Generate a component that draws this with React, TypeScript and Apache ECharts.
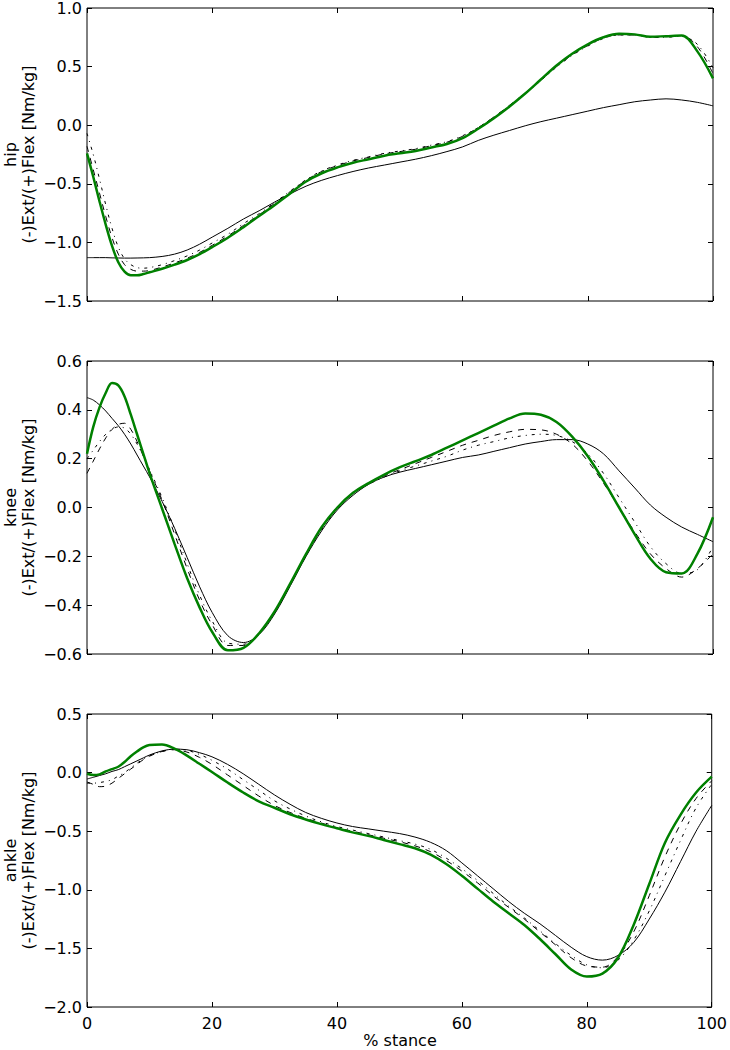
import React, { useEffect, useRef } from "react";
import * as echarts from "echarts";

const X = [0,1,2,3,4,5,6,7,8,9,10,12,14,16,18,20,22.5,25,27.5,30,32.5,35,37.5,40,42.5,45,47.5,50,52.5,55,57.5,60,62.5,65,67.5,70,72.5,75,77.5,80,82.5,85,87.5,90,92.5,95,97.5,100];

const HIP_G = [-0.24,-0.44,-0.65,-0.85,-1.03,-1.17,-1.25,-1.28,-1.28,-1.27,-1.255,
  -1.225,-1.19,-1.15,-1.10,-1.04,
  -0.96,-0.87,-0.775,-0.68,-0.58,-0.48,-0.41,-0.36,-0.32,-0.29,-0.26,-0.24,-0.22,-0.19,-0.16,-0.11,-0.03,0.06,0.16,0.27,0.39,0.51,0.61,0.69,0.75,0.78,0.775,0.755,0.76,0.765,0.63,0.40];
const HIP_S = [-1.13,-1.13,-1.13,-1.13,-1.132,-1.133,-1.134,-1.134,-1.133,-1.132,-1.13,
  -1.12,-1.10,-1.065,-1.015,-0.955,
  -0.88,-0.80,-0.73,-0.655,-0.585,-0.52,-0.47,-0.43,-0.395,-0.365,-0.34,-0.315,-0.29,-0.26,-0.225,-0.185,-0.13,-0.085,-0.045,-0.005,0.03,0.06,0.09,0.12,0.15,0.175,0.2,0.215,0.225,0.215,0.195,0.165];
const HIP_D = [-0.18,-0.38,-0.58,-0.78,-0.96,-1.10,-1.19,-1.23,-1.245,-1.245,-1.24,
  -1.21,-1.175,-1.135,-1.085,-1.025,
  -0.945,-0.855,-0.765,-0.665,-0.565,-0.47,-0.395,-0.345,-0.305,-0.275,-0.245,-0.225,-0.205,-0.175,-0.145,-0.095,-0.02,0.07,0.17,0.275,0.385,0.5,0.6,0.68,0.745,0.77,0.77,0.75,0.755,0.765,0.67,0.44];
const HIP_DD = [-0.07,-0.25,-0.46,-0.68,-0.88,-1.04,-1.14,-1.19,-1.215,-1.22,-1.215,
  -1.19,-1.155,-1.115,-1.065,-1.005,
  -0.93,-0.84,-0.755,-0.66,-0.56,-0.465,-0.39,-0.34,-0.30,-0.27,-0.24,-0.22,-0.2,-0.17,-0.14,-0.09,-0.02,0.07,0.165,0.27,0.38,0.495,0.595,0.675,0.74,0.77,0.77,0.75,0.75,0.76,0.69,0.49];

const KNEE_G = [0.22,0.33,0.41,0.47,0.51,0.50,0.455,0.38,0.30,0.22,0.14,
  -0.005,-0.15,-0.29,-0.41,-0.51,
  -0.585,-0.575,-0.515,-0.425,-0.31,-0.19,-0.08,0.0,0.06,0.1,0.135,0.165,0.19,0.215,0.245,0.275,0.305,0.335,0.365,0.385,0.38,0.35,0.29,0.21,0.11,0.0,-0.11,-0.21,-0.265,-0.27,-0.19,-0.04];
const KNEE_S = [0.45,0.44,0.42,0.395,0.365,0.335,0.30,0.26,0.215,0.17,0.125,
  0.025,-0.085,-0.205,-0.325,-0.43,
  -0.525,-0.553,-0.52,-0.435,-0.32,-0.2,-0.095,-0.01,0.05,0.095,0.125,0.145,0.16,0.175,0.19,0.205,0.215,0.23,0.245,0.26,0.27,0.278,0.278,0.26,0.22,0.15,0.08,0.01,-0.04,-0.08,-0.11,-0.14];
const KNEE_D = [0.14,0.19,0.24,0.285,0.32,0.34,0.345,0.32,0.27,0.21,0.15,
  0.03,-0.11,-0.25,-0.38,-0.48,
  -0.565,-0.565,-0.515,-0.43,-0.315,-0.195,-0.085,0.0,0.06,0.1,0.13,0.155,0.18,0.205,0.23,0.255,0.275,0.295,0.31,0.32,0.318,0.30,0.26,0.19,0.1,0.0,-0.1,-0.19,-0.25,-0.285,-0.25,-0.19];
const KNEE_DD = [0.20,0.235,0.27,0.30,0.32,0.33,0.325,0.30,0.26,0.21,0.155,
  0.04,-0.09,-0.23,-0.36,-0.465,
  -0.555,-0.56,-0.515,-0.43,-0.315,-0.195,-0.09,-0.005,0.055,0.095,0.125,0.15,0.17,0.19,0.21,0.235,0.255,0.27,0.285,0.295,0.30,0.295,0.27,0.22,0.14,0.04,-0.06,-0.16,-0.23,-0.27,-0.255,-0.16];

const ANKLE_G = [-0.01,-0.02,-0.015,0.01,0.03,0.05,0.09,0.14,0.18,0.215,0.235,
  0.24,0.205,0.145,0.075,0.005,
  -0.085,-0.17,-0.245,-0.30,-0.355,-0.40,-0.44,-0.475,-0.51,-0.54,-0.575,-0.61,-0.645,-0.70,-0.78,-0.88,-0.99,-1.10,-1.20,-1.30,-1.42,-1.55,-1.68,-1.74,-1.715,-1.58,-1.3,-0.95,-0.6,-0.36,-0.17,-0.035];
const ANKLE_S = [-0.055,-0.04,-0.025,-0.01,0.01,0.025,0.05,0.075,0.10,0.125,0.15,
  0.185,0.2,0.195,0.17,0.135,
  0.07,-0.01,-0.1,-0.19,-0.27,-0.34,-0.39,-0.43,-0.46,-0.48,-0.5,-0.52,-0.55,-0.595,-0.665,-0.77,-0.88,-0.99,-1.10,-1.20,-1.29,-1.39,-1.49,-1.57,-1.6,-1.56,-1.45,-1.25,-1.02,-0.76,-0.5,-0.28];
const ANKLE_D = [-0.08,-0.10,-0.12,-0.115,-0.09,-0.05,-0.01,0.03,0.07,0.11,0.14,
  0.18,0.195,0.175,0.13,0.07,
  -0.02,-0.11,-0.2,-0.28,-0.34,-0.39,-0.43,-0.47,-0.5,-0.53,-0.56,-0.59,-0.625,-0.675,-0.75,-0.84,-0.94,-1.05,-1.15,-1.25,-1.36,-1.47,-1.58,-1.65,-1.66,-1.57,-1.36,-1.05,-0.72,-0.44,-0.22,-0.07];
const ANKLE_DD = [-0.09,-0.09,-0.085,-0.075,-0.06,-0.03,0.0,0.04,0.08,0.115,0.145,
  0.18,0.2,0.19,0.155,0.105,
  0.03,-0.06,-0.15,-0.24,-0.31,-0.37,-0.42,-0.46,-0.49,-0.52,-0.55,-0.58,-0.61,-0.655,-0.73,-0.82,-0.92,-1.03,-1.14,-1.24,-1.35,-1.46,-1.56,-1.64,-1.665,-1.6,-1.43,-1.18,-0.88,-0.58,-0.3,-0.1];

const PANEL_NAMES = ["hip", "knee", "ankle"];
const Y_LABEL = "(-)Ext/(+)Flex [Nm/kg]";
const X_LABEL = "% stance";
const Y_RANGES = [
  { min: -1.5, max: 1.0, interval: 0.5 },
  { min: -0.6, max: 0.6, interval: 0.2 },
  { min: -2.0, max: 0.5, interval: 0.5 },
];
const X_RANGE = { min: 0, max: 100, interval: 20 };
const PANEL_DATA = [
  [HIP_S, HIP_D, HIP_DD, HIP_G],
  [KNEE_S, KNEE_D, KNEE_DD, KNEE_G],
  [ANKLE_S, ANKLE_D, ANKLE_DD, ANKLE_G],
];

const FONT = "DejaVu Sans";
const GRID_TOPS = [8, 361, 714];
const GRID_H = 293;
const GRID_LEFT = 87;
const GRID_W = 626;

export default function App() {
  const ref = useRef<HTMLDivElement>(null);
  useEffect(() => {
    document.body.style.margin = "0";
    const chart = echarts.init(ref.current!, null, { renderer: "svg" });
    const fmtY = (v: number) => (v < -1e-9 ? "\u2212" : "") + Math.abs(v).toFixed(1);
    const tick = { show: true, inside: true, length: 5, lineStyle: { color: "#000", width: 1 } };
    const noLine = { show: false, onZero: false };
    const grids = GRID_TOPS.map((t) => ({
      left: GRID_LEFT, top: t, width: GRID_W, height: GRID_H,
      show: true, borderColor: "#000", borderWidth: 1, backgroundColor: "transparent",
    }));
    const xAxes: any[] = [];
    const yAxes: any[] = [];
    for (let i = 0; i < 3; i++) {
      xAxes.push({
        type: "value", gridIndex: i, position: "bottom", ...X_RANGE,
        axisLine: noLine, splitLine: { show: false }, axisTick: tick,
        axisLabel: {
          show: i === 2, margin: 8, color: "#000", fontFamily: FONT, fontSize: 16,
          formatter: (v: number) => String(Math.round(v)),
        },
      });
    }
    for (let i = 0; i < 3; i++) {
      xAxes.push({
        type: "value", gridIndex: i, position: "top", ...X_RANGE,
        axisLine: noLine, splitLine: { show: false }, axisTick: tick,
        axisLabel: { show: false },
      });
    }
    for (let i = 0; i < 3; i++) {
      yAxes.push({
        type: "value", gridIndex: i, position: "left", ...Y_RANGES[i],
        axisLine: noLine, splitLine: { show: false }, axisTick: tick,
        axisLabel: { show: true, margin: 5, color: "#000", fontFamily: FONT, fontSize: 16, formatter: fmtY },
      });
    }
    for (let i = 0; i < 3; i++) {
      yAxes.push({
        type: "value", gridIndex: i, position: "right", ...Y_RANGES[i],
        axisLine: noLine, splitLine: { show: false }, axisTick: tick,
        axisLabel: { show: false },
      });
    }
    const styles = [
      { color: "#000", width: 1, type: "solid" },
      { color: "#000", width: 1, type: [6, 6] },
      { color: "#000", width: 1, type: [3, 5, 1, 5] },
      { color: "#008000", width: 2.5, type: "solid" },
    ];
    const series: any[] = [];
    PANEL_DATA.forEach((arrs, p) => {
      arrs.forEach((arr, s) => {
        series.push({
          type: "line", xAxisIndex: p, yAxisIndex: p,
          data: X.map((x, k) => [x, arr[k]]),
          showSymbol: false, symbol: "none", smooth: 0.35, silent: true,
          lineStyle: styles[s], z: 2 + s,
        });
      });
    });
    const graphics: any[] = GRID_TOPS.map((t, i) => ({
      type: "text", x: 19, y: t + GRID_H / 2, rotation: Math.PI / 2,
      style: {
        text: PANEL_NAMES[i] + "\n" + Y_LABEL, font: `16px '${FONT}'`, fill: "#000",
        align: "center", verticalAlign: "middle", textAlign: "center", textVerticalAlign: "middle",
        lineHeight: 18,
      },
    }));
    graphics.push({
      type: "text", x: GRID_LEFT + GRID_W / 2, y: 1040,
      style: {
        text: X_LABEL, font: `16px '${FONT}'`, fill: "#000",
        align: "center", verticalAlign: "middle", textAlign: "center", textVerticalAlign: "middle",
      },
    });
    chart.setOption({
      animation: false,
      textStyle: { fontFamily: FONT },
      grid: grids,
      xAxis: xAxes,
      yAxis: yAxes,
      series,
      graphic: graphics,
    });
    return () => chart.dispose();
  }, []);
  return <div ref={ref} style={{ width: 730, height: 1050 }} />;
}
